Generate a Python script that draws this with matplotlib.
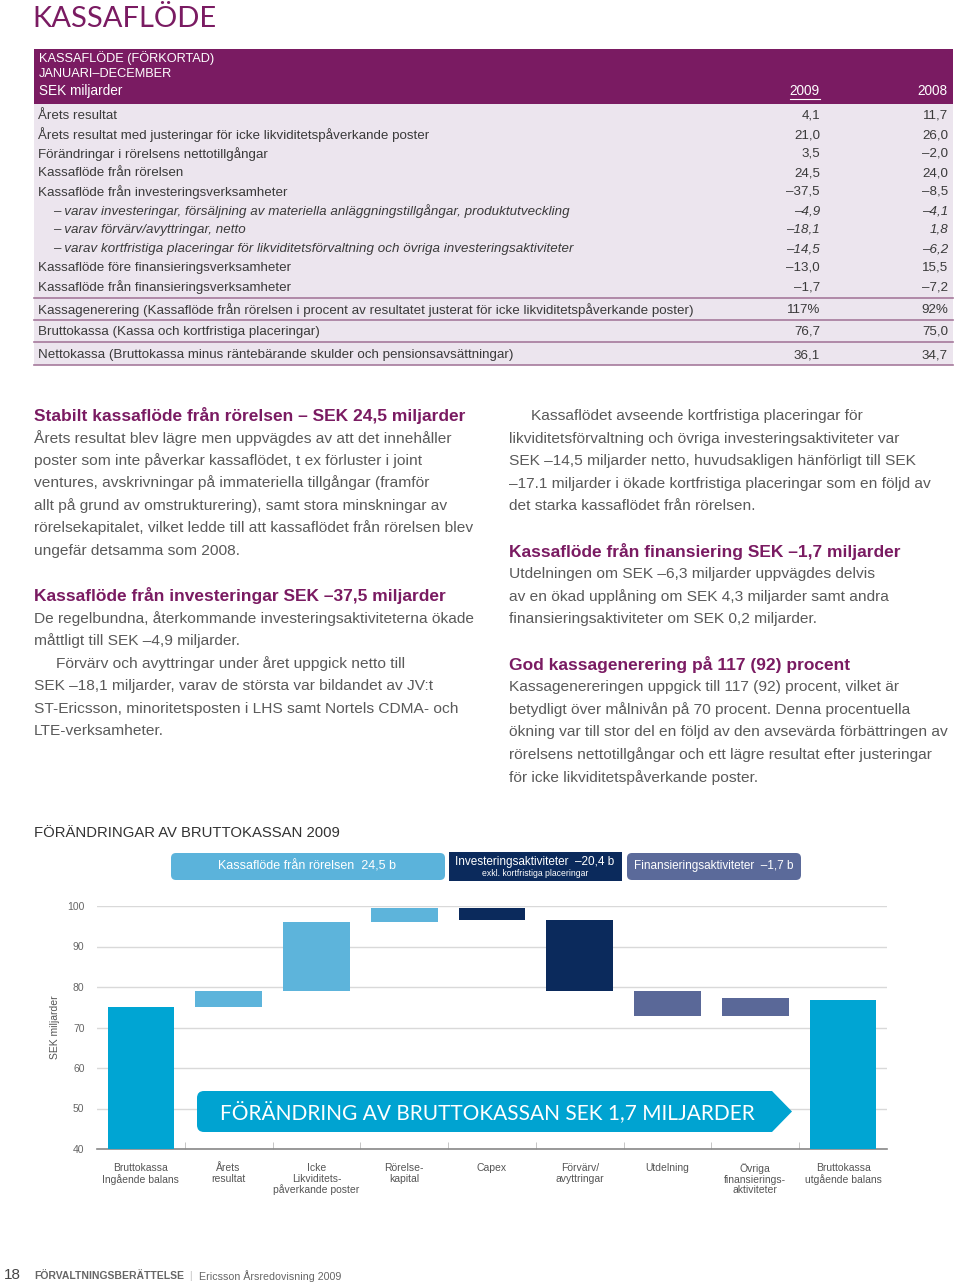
import matplotlib
matplotlib.use("Agg")
import matplotlib.pyplot as plt
from matplotlib.patches import Rectangle, FancyBboxPatch, Polygon
import numpy as np

plt.rcParams['font.family'] = ['Liberation Sans', 'DejaVu Sans']

PURPLE = '#7a1b62'
LAVENDER = '#ece5ee'
GREY = '#5a5a5a'

# table data
row_labels = [
    "Årets resultat",
    "Årets resultat med justeringar för icke likviditetspåverkande poster",
    "Förändringar i rörelsens nettotillgångar",
    "Kassaflöde från rörelsen",
    "Kassaflöde från investeringsverksamheter",
    "– varav investeringar, försäljning av materiella anläggningstillgångar, produktutveckling",
    "– varav förvärv/avyttringar, netto",
    "– varav kortfristiga placeringar för likviditetsförvaltning och övriga investeringsaktiviteter",
    "Kassaflöde före finansieringsverksamheter",
    "Kassaflöde från finansieringsverksamheter",
    "Kassagenerering (Kassaflöde från rörelsen i procent av resultatet justerat för icke likviditetspåverkande poster)",
    "Bruttokassa (Kassa och kortfristiga placeringar)",
    "Nettokassa (Bruttokassa minus räntebärande skulder och pensionsavsättningar)",
]
vals_2009 = [4.1, 21.0, 3.5, 24.5, -37.5, -4.9, -18.1, -14.5, -13.0, -1.7, 117, 76.7, 36.1]
vals_2008 = [11.7, 26.0, -2.0, 24.0, -8.5, -4.1, 1.8, -6.2, 15.5, -7.2, 92, 75.0, 34.7]
italic_rows = [5, 6, 7]
percent_rows = [10]

# waterfall data (SEK miljarder)
categories = ["Bruttokassa\nIngående balans", "Årets\nresultat",
              "Icke\nLikviditets-\npåverkande poster", "Rörelse-\nkapital",
              "Capex", "Förvärv/\navyttringar", "Utdelning",
              "Övriga\nfinansierings-\naktiviteter", "Bruttokassa\nutgående balans"]
opening = 75.0
changes = [4.1, 16.9, 3.5, -2.9, -17.5, -6.3, 4.4]
closing = 76.7
change_groups = ['op', 'op', 'op', 'inv', 'inv', 'fin', 'fin']
group_colors = {'op': '#5db4db', 'inv': '#0b2a5c', 'fin': '#5a6898', 'bal': '#00a5d3'}

left_col = [
    ("h", "Stabilt kassaflöde från rörelsen – SEK 24,5 miljarder"),
    ("t", "Årets resultat blev lägre men uppvägdes av att det innehåller"),
    ("t", "poster som inte påverkar kassaflödet, t ex förluster i joint"),
    ("t", "ventures, avskrivningar på immateriella tillgångar (framför"),
    ("t", "allt på grund av omstrukturering), samt stora minskningar av"),
    ("t", "rörelsekapitalet, vilket ledde till att kassaflödet från rörelsen blev"),
    ("t", "ungefär detsamma som 2008."),
    ("gap", ""),
    ("h", "Kassaflöde från investeringar SEK –37,5 miljarder"),
    ("t", "De regelbundna, återkommande investeringsaktiviteterna ökade"),
    ("t", "måttligt till SEK –4,9 miljarder."),
    ("i", "Förvärv och avyttringar under året uppgick netto till"),
    ("t", "SEK –18,1 miljarder, varav de största var bildandet av JV:t"),
    ("t", "ST-Ericsson, minoritetsposten i LHS samt Nortels CDMA- och"),
    ("t", "LTE-verksamheter."),
]
right_col = [
    ("i", "Kassaflödet avseende kortfristiga placeringar för"),
    ("t", "likviditetsförvaltning och övriga investeringsaktiviteter var"),
    ("t", "SEK –14,5 miljarder netto, huvudsakligen hänförligt till SEK"),
    ("t", "–17.1 miljarder i ökade kortfristiga placeringar som en följd av"),
    ("t", "det starka kassaflödet från rörelsen."),
    ("gap", ""),
    ("h", "Kassaflöde från finansiering SEK –1,7 miljarder"),
    ("t", "Utdelningen om SEK –6,3 miljarder uppvägdes delvis"),
    ("t", "av en ökad upplåning om SEK 4,3 miljarder samt andra"),
    ("t", "finansieringsaktiviteter om SEK 0,2 miljarder."),
    ("gap", ""),
    ("h", "God kassagenerering på 117 (92) procent"),
    ("t", "Kassagenereringen uppgick till 117 (92) procent, vilket är"),
    ("t", "betydligt över målnivån på 70 procent. Denna procentuella"),
    ("t", "ökning var till stor del en följd av den avsevärda förbättringen av"),
    ("t", "rörelsens nettotillgångar och ett lägre resultat efter justeringar"),
    ("t", "för icke likviditetspåverkande poster."),
]


def fmt(v, pct=False):
    if pct:
        return f"{v:.0f}%"
    s = f"{abs(v):.1f}".replace('.', ',')
    return ("–" + s) if v < 0 else s


W, H = 960, 1285
fig = plt.figure(figsize=(9.6, 12.85), dpi=100)

# ---- waterfall chart ----
x0, x1, ytop, ybot = 97, 887, 906, 1149
ax = fig.add_axes([x0 / W, 1 - ybot / H, (x1 - x0) / W, (ybot - ytop) / H])
ax.set_facecolor('none')

n = len(categories)
xs = np.arange(n)
cum = opening + np.concatenate([[0], np.cumsum(changes)])
bottoms = [40] + [min(cum[i], cum[i + 1]) for i in range(len(changes))] + [40]
heights = [opening - 40] + [abs(c) for c in changes] + [closing - 40]
colors = [group_colors['bal']] + [group_colors[g] for g in change_groups] + [group_colors['bal']]
ax.bar(xs, heights, bottom=bottoms, width=0.76, color=colors, zorder=3)

ax.set_xlim(-0.5, n - 0.5)
ax.set_ylim(40, 100)
ax.set_yticks(np.arange(40, 101, 10))
ax.yaxis.grid(True, color='#d9d9d9', lw=1)
ax.set_axisbelow(True)
ax.tick_params(axis='y', length=0, labelsize=7.5, labelcolor='#666666', pad=9)
ax.set_xticks(xs)
ax.set_xticklabels(categories, fontsize=7.5, color='#555555', linespacing=1.1, va='top')
ax.tick_params(axis='x', which='major', length=0, pad=10)
ax.set_xticks(np.arange(0.5, n - 1, 1), minor=True)
ax.tick_params(axis='x', which='minor', direction='in', length=5, color='#bbbbbb')
for s in ['top', 'right', 'left']:
    ax.spines[s].set_visible(False)
ax.spines['bottom'].set_color('#888888')
ax.spines['bottom'].set_linewidth(1.2)
ax.set_ylabel("SEK miljarder", fontsize=7.5, color='#555555', labelpad=5)

# ---- page overlay in pixel coordinates ----
pg = fig.add_axes([0, 0, 1, 1])
pg.set_xlim(0, W)
pg.set_ylim(H, 0)
pg.axis('off')
pg.patch.set_alpha(0)


def put(x, y, s, **kw):
    kw.setdefault('va', 'center')
    kw.setdefault('ha', 'left')
    pg.text(x, y, s, **kw)


# title
put(32, 19, "KASSAFLÖDE", fontsize=21, color=PURPLE, family=['Lato', 'DejaVu Sans'])

# table header
pg.add_patch(Rectangle((34, 49), 919, 55, color=PURPLE, lw=0))
hdr_kw = dict(fontsize=9.2, color='white')
put(39, 58, "KASSAFLÖDE (FÖRKORTAD)", **hdr_kw)
put(39, 74, "JANUARI–DECEMBER", **hdr_kw)
put(39, 91, "SEK miljarder", fontsize=9.8, color='white')
put(820, 91, "2009", ha='right', fontsize=9.8, color='white')
pg.plot([790, 820], [99, 99], color='white', lw=0.8)
put(948, 91, "2008", ha='right', fontsize=9.8, color='white')

# table body
pg.add_patch(Rectangle((34, 104), 919, 261, color=LAVENDER, lw=0))
row_y = [116 + 19 * i for i in range(10)] + [310, 332, 355]
for i, (lab, a, b) in enumerate(zip(row_labels, vals_2009, vals_2008)):
    ital = 'italic' if i in italic_rows else 'normal'
    pct = i in percent_rows
    xl = 53 if i in italic_rows else 38
    kw = dict(fontsize=9.6, color='#3a3a3a', style=ital)
    put(xl, row_y[i], lab, **kw)
    put(820, row_y[i], fmt(a, pct), ha='right', **kw)
    put(948, row_y[i], fmt(b, pct), ha='right', **kw)
for yl in [298, 320, 342, 365]:
    pg.plot([34, 953], [yl, yl], color='#a67a9c', lw=1.2)

# text columns
def column(x, y, items, dy=22.6):
    for kind, s in items:
        if kind == 'gap':
            y += dy
            continue
        if kind == 'h':
            put(x, y, s, fontsize=12.5, color=PURPLE, fontweight='bold')
        elif kind == 'i':
            put(x + 22, y, s, fontsize=11.15, color=GREY)
        else:
            put(x, y, s, fontsize=11.15, color=GREY)
        y += dy


column(34, 415, left_col)
column(509, 416, right_col)

# chart section title
put(34, 833, "FÖRÄNDRINGAR AV BRUTTOKASSAN 2009", fontsize=10.75, color='#333333')

# banners above chart
pg.add_patch(FancyBboxPatch((171, 853), 274, 27, boxstyle="round,pad=0,rounding_size=5",
                            color='#5bb3db', lw=0))
put(307, 866, "Kassaflöde från rörelsen  24,5 b", ha='center', fontsize=9, color='white')
pg.add_patch(Rectangle((449, 852), 173, 29, color='#0b2a5c', lw=0))
put(535, 862, "Investeringsaktiviteter  –20,4 b", ha='center', fontsize=8.5, color='white')
put(535, 874, "exkl. kortfristiga placeringar", ha='center', fontsize=6.2, color='white')
pg.add_patch(FancyBboxPatch((627, 853), 174, 27, boxstyle="round,pad=0,rounding_size=5",
                            color='#5b6a9a', lw=0))
put(714, 866, "Finansieringsaktiviteter  –1,7 b", ha='center', fontsize=8.5, color='white')

# big arrow over chart
pg.add_patch(FancyBboxPatch((197, 1091), 575, 41, boxstyle="round,pad=0,rounding_size=7",
                            color='#00a3d1', lw=0, zorder=5))
pg.add_patch(Polygon([(755, 1091), (772, 1091), (792, 1111.5), (772, 1132), (755, 1132)],
                     closed=True, color='#00a3d1', lw=0, zorder=5))
put(487, 1112, "FÖRÄNDRING AV BRUTTOKASSAN SEK 1,7 MILJARDER", ha='center',
    fontsize=15, color='white', zorder=6, family=['Lato', 'DejaVu Sans'])

# footer
put(4, 1275, "18", fontsize=11, color='#444444')
put(34, 1276, "FÖRVALTNINGSBERÄTTELSE", fontsize=7.5, color='#666666', fontweight='bold')
put(189, 1276, "|", fontsize=7, color='#bbbbbb')
put(199, 1276, "Ericsson Årsredovisning 2009", fontsize=7.7, color='#666666')

fig.savefig("out.png", dpi=100, facecolor='white')
